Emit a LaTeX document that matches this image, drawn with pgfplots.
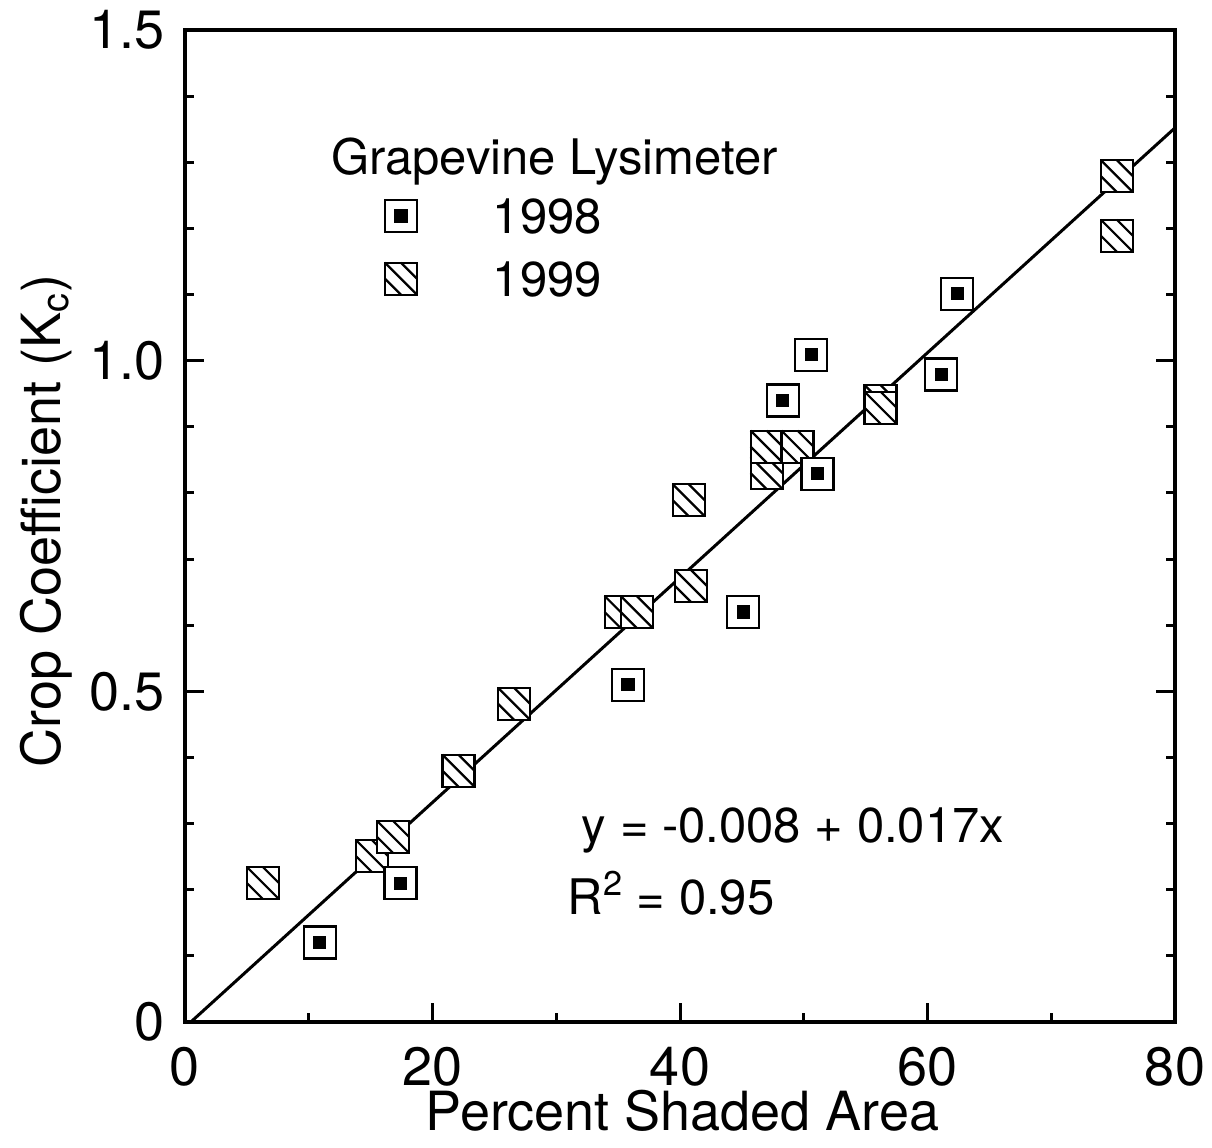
\documentclass[border=0pt]{standalone}
\usepackage{pgfplots}
\pgfplotsset{compat=1.18}
\usepackage{fontspec}
\setmainfont{TeX Gyre Heros}

\pgfdeclareplotmark{dotsq}{%
  \pgfpathrectangle{\pgfpoint{-\pgfplotmarksize}{-\pgfplotmarksize}}{\pgfpoint{2\pgfplotmarksize}{2\pgfplotmarksize}}%
  \pgfusepathqfillstroke
  \begin{pgfscope}%
  \pgfsetfillcolor{black}%
  \pgfpathrectangle{\pgfpoint{-0.41\pgfplotmarksize}{-0.41\pgfplotmarksize}}{\pgfpoint{0.82\pgfplotmarksize}{0.82\pgfplotmarksize}}%
  \pgfusepathqfill
  \end{pgfscope}%
}
\pgfdeclareplotmark{hatchsq}{%
  \pgfpathrectangle{\pgfpoint{-\pgfplotmarksize}{-\pgfplotmarksize}}{\pgfpoint{2\pgfplotmarksize}{2\pgfplotmarksize}}%
  \pgfusepathqfillstroke
  \pgfpathmoveto{\pgfpoint{-\pgfplotmarksize}{\pgfplotmarksize}}\pgfpathlineto{\pgfpoint{\pgfplotmarksize}{-\pgfplotmarksize}}%
  \pgfpathmoveto{\pgfpoint{0pt}{\pgfplotmarksize}}\pgfpathlineto{\pgfpoint{\pgfplotmarksize}{0pt}}%
  \pgfpathmoveto{\pgfpoint{-\pgfplotmarksize}{0pt}}\pgfpathlineto{\pgfpoint{0pt}{-\pgfplotmarksize}}%
  \pgfusepathqstroke
}

\begin{document}
\begin{tikzpicture}
\begin{axis}[
  scale only axis, width=495pt, height=496pt,
  xmin=0, xmax=80, ymin=0, ymax=1.5,
  xtick={0,20,40,60,80}, xticklabels={0,20,40,60,80},
  minor xtick={10,30,50,70},
  ytick={0,0.5,1,1.5}, yticklabels={0,0.5,1.0,1.5},
  minor ytick={0.1,0.2,0.3,0.4,0.6,0.7,0.8,0.9,1.1,1.2,1.3,1.4},
  xtick pos=bottom, ytick pos=both,
  tick align=inside,
  major tick length=9.5pt, minor tick length=4.5pt,
  tick style={line width=1.5pt, black},
  axis line style={line width=2pt},
  xticklabel style={font=\fontsize{27pt}{32pt}\selectfont, anchor=base, inner sep=0pt, yshift=-31.5pt},
  yticklabel style={font=\fontsize{27pt}{32pt}\selectfont, anchor=east, inner sep=0pt, xshift=-10pt},
  every axis x label/.style={at={(axis description cs:0.5025,-0.1089)}, anchor=base, font=\fontsize{27pt}{32pt}\selectfont},
  every axis y label/.style={at={(axis description cs:-0.1253,0.505)}, rotate=90, anchor=base, font=\fontsize{27pt}{32pt}\selectfont},
  xlabel={Percent Shaded Area},
  ylabel={Crop Coefficient (K\textsubscript{c})},
  legend image code/.code={\draw[#1] plot coordinates {(0pt,0pt)};},
  legend style={draw=none, fill=none, inner sep=0pt, outer sep=0pt,
    at={(axis cs:16.16,1.2451)}, anchor=north west,
    font=\fontsize{24.5pt}{29pt}\selectfont,
    nodes={inner sep=0pt, text depth=0pt},
    row sep=14pt,
    /tikz/every odd column/.append style={column sep=38pt}},
  legend cell align=left,
]
\addlegendimage{only marks, mark=dotsq, mark size=8pt, mark options={draw=black, fill=white, line width=1.2pt}}
\addlegendentry{1998}
\addlegendimage{only marks, mark=hatchsq, mark size=8pt, mark options={draw=black, fill=white, line width=1.1pt}}
\addlegendentry{1999}

% 1999
\addplot[forget plot, only marks, mark=hatchsq, mark size=8pt, mark options={draw=black, fill=white, line width=1.1pt}] coordinates {
(6.3,0.210) (15.1,0.251) (16.8,0.280) (22.1,0.380) (26.6,0.481)
(35.2,0.620) (36.5,0.620) (40.9,0.659) (40.7,0.789)
(47.0,0.830) (47.0,0.870) (49.5,0.870) (56.2,0.939) (56.2,0.929)
(75.3,1.279) (75.3,1.189)
};
% 1998
\addplot[forget plot, only marks, mark=dotsq, mark size=8pt, mark options={draw=black, fill=white, line width=1.2pt}] coordinates {
(10.9,0.120) (17.4,0.210) (35.8,0.510) (45.1,0.620) (48.3,0.940)
(50.6,1.009) (51.1,0.829) (61.1,0.979) (62.4,1.101)
};
% regression line
\addplot[forget plot, black, line width=1.5pt] coordinates {(0.47,0) (80,1.352)};

\node[anchor=base west, inner sep=0pt, font=\fontsize{24.5pt}{29pt}\selectfont] at (axis cs:11.77,1.2808) {Grapevine Lysimeter};
\node[anchor=base west, inner sep=0pt, font=\fontsize{24.5pt}{29pt}\selectfont] at (axis cs:32.04,0.2722) {y = -0.008 + 0.017x};
\node[anchor=base west, inner sep=0pt, font=\fontsize{24.5pt}{29pt}\selectfont] at (axis cs:30.9,0.1633) {R\textsuperscript{2} = 0.95};

\coordinate (bl) at (axis description cs:-0.18687,-0.12601);
\coordinate (tr) at (axis description cs:1.03737,1.03024);
\end{axis}
\path (bl) rectangle (tr);
\end{tikzpicture}
\end{document}
